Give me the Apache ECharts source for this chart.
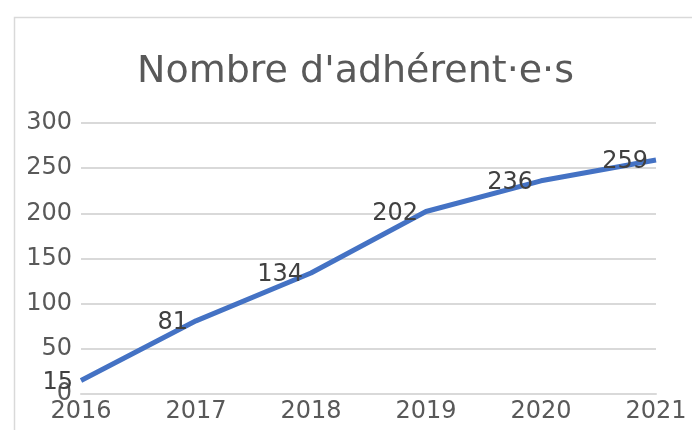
<!DOCTYPE html>
<html>
<head>
<meta charset="utf-8">
<script src="https://cdn.jsdelivr.net/npm/echarts@6/dist/echarts.min.js"></script>
<style>
	html, body { margin: 0; padding: 0; background: #fff; }
	#main { width: 692px; height: 430px; }
</style>
</head>
<body>
<div id="main"></div>
<script>
// données du graphique
var years = ['2016', '2017', '2018', '2019', '2020', '2021'];
var members = [15, 81, 134, 202, 236, 259];
var chartTitle = "Nombre d'adhérent·e·s";

var myChart = echarts.init(document.getElementById('main'));

var option = {
	backgroundColor : '#ffffff',
	animation : false,
	textStyle : {
		fontFamily : 'DejaVu Sans'
	},
	graphic : [ { // cadre du graphique
		type : 'rect',
		left : 12,
		top : 15,
		shape : { width : 700, height : 440 },
		style : { fill : 'none', stroke : '#d9d9d9', lineWidth : 1.5 },
		silent : true
	} ],
	title : {
		text : chartTitle,
		left : 137,
		top : 53,
		padding : 0,
		textStyle : {
			fontFamily : 'DejaVu Sans',
			fontSize : 38,
			fontWeight : 'normal',
			color : '#595959'
		}
	},
	grid : {
		left : 81,
		right : 36,
		top : 123,
		bottom : 36,
		containLabel : false
	},
	xAxis : {
		type : 'category',
		data : years,
		boundaryGap : false,
		axisLine : {
			show : true,
			lineStyle : { color : '#d9d9d9', width : 2 }
		},
		axisTick : { show : false },
		axisLabel : {
			fontSize : 24,
			color : '#595959',
			margin : 6
		}
	},
	yAxis : {
		type : 'value',
		min : 0,
		max : 300,
		interval : 50,
		axisLine : { show : false },
		axisTick : { show : false },
		axisLabel : {
			fontSize : 24,
			color : '#595959',
			margin : 9,
			padding : [ 3, 0, 0, 0 ]
		},
		splitLine : {
			lineStyle : { color : '#d9d9d9', width : 2 }
		}
	},
	series : [ {
		name : chartTitle,
		type : 'line',
		data : members,
		symbol : 'circle',
		symbolSize : 0,
		showSymbol : true,
		lineStyle : { color : '#4472C4', width : 5 },
		itemStyle : { color : '#4472C4' },
		label : { // valeur à gauche de chaque point
			show : true,
			position : 'left',
			distance : 8,
			offset : [ 0, 2 ],
			fontSize : 24,
			color : '#404040'
		}
	} ]
};

myChart.setOption(option);
</script>
</body>
</html>
